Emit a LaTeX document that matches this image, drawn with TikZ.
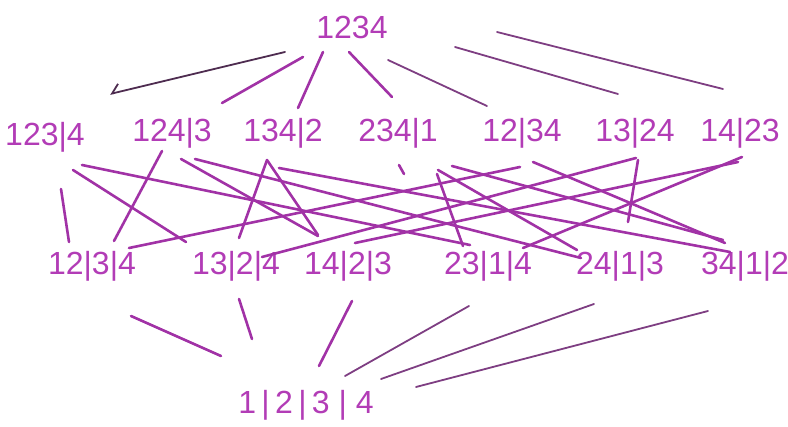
\documentclass[tikz,border=0pt]{standalone}
\usepackage{fontspec}
\setmainfont{Liberation Sans}
\usetikzlibrary{calc,arrows.meta}
\definecolor{ink}{HTML}{B23CB6}
\definecolor{pen}{HTML}{A132A6}
\definecolor{pencil}{HTML}{7E3E82}
\definecolor{dark}{HTML}{4E2C50}
\begin{document}
\begin{tikzpicture}[x=0.5pt,y=-0.5pt,
  part/.style={text=ink, font=\fontsize{16}{18}\selectfont, inner sep=0pt},
  link/.style={draw=pen, line width=1.3pt, line cap=round},
  faint/.style={draw=pencil, line width=0.9pt, line cap=round}]
\useasboundingbox (0,0) rectangle (788,427);
% partitions, one row per number of blocks
\node[part] (whole) at (352,27) {1234};
\node[part] (p123) at (45,137) {123|4};
\node[part] (p124) at (172,133) {124|3};
\node[part] (p134) at (283,133) {134|2};
\node[part] (p234) at (398,133) {234|1};
\node[part] (p12) at (522,133) {12|34};
\node[part] (p13) at (635,133) {13|24};
\node[part] (p14) at (740,133) {14|23};
\node[part] (q12) at (92,266) {12|3|4};
\node[part] (q13) at (236,266) {13|2|4};
\node[part] (q14) at (348,266) {14|2|3};
\node[part] (q23) at (488,266) {23|1|4};
\node[part] (q24) at (620,266) {24|1|3};
\node[part] (q34) at (745,266) {34|1|2};
\node[part] (singletons) at (306,405) {1\,|\,2\,|\,3\;|\;4};
% top
\draw[faint, draw=dark, -{Straight Barb[right,length=4pt]}] ($(whole)+(-67,25)$) -- ($(p123)+(65,-43)$);
\draw[link] ($(whole)+(-49,30)$) -- ($(p124)+(50,-30)$);
\draw[link] ($(whole)+(-29,25)$) -- ($(p134)+(15,-25)$);
\draw[link] ($(whole)+(-3,25)$) -- ($(p234)+(-6,-36)$);
\draw[faint] ($(whole)+(36,33)$) -- ($(p12)+(-35,-27)$);
\draw[faint] ($(whole)+(103,20)$) -- ($(p13)+(-17,-39)$);
\draw[faint] ($(whole)+(145,5)$) -- ($(p14)+(-17,-44)$);
% middle
\draw[link] ($(p123)+(16,52)$) -- ($(q12)+(-23,-24)$);
\draw[link] ($(p123)+(28,33)$) -- ($(q13)+(-50,-24)$);
\draw[link] ($(p123)+(37,28)$) -- ($(q23)+(-18,-21)$);
\draw[link] ($(p124)+(-10,18)$) -- ($(q12)+(22,-25)$);
\draw[link] ($(p124)+(9,26)$) -- ($(q14)+(-30,-30)$);
\draw[link] ($(p124)+(23,26)$) -- ($(q24)+(-39,-8)$);
\draw[link] ($(p134)+(-16,27)$) -- ($(q13)+(3,-28)$);
\draw[link] ($(p134)+(-16,27)$) -- ($(q14)+(-30,-31)$);
\draw[link] ($(p134)+(-4,35)$) -- ($(q34)+(-15,-14)$);
\draw[link] ($(p234)+(1,32)$) -- ($(p234)+(6,41)$);
\draw[link] ($(p234)+(39,41)$) -- ($(q23)+(-25,-20)$);
\draw[link] ($(p234)+(40,37)$) -- ($(q24)+(-43,-16)$);
\draw[link] ($(p234)+(54,33)$) -- ($(q34)+(-22,-26)$);
\draw[link] ($(p12)+(-2,34)$) -- ($(q12)+(37,-18)$);
\draw[link] ($(p12)+(11,29)$) -- ($(q34)+(-20,-23)$);
\draw[link] ($(p13)+(1,25)$) -- ($(q13)+(26,-9)$);
\draw[link] ($(p13)+(3,27)$) -- ($(q24)+(8,-44)$);
\draw[link] ($(p14)+(-2,29)$) -- ($(q14)+(7,-23)$);
\draw[link] ($(p14)+(2,24)$) -- ($(q23)+(35,-18)$);
% bottom
\draw[link] ($(q12)+(39,50)$) -- ($(singletons)+(-85,-49)$);
\draw[link] ($(q13)+(3,33)$) -- ($(singletons)+(-54,-66)$);
\draw[link] ($(q14)+(4,35)$) -- ($(singletons)+(13,-39)$);
\draw[faint] ($(q23)+(-19,40)$) -- ($(singletons)+(39,-29)$);
\draw[faint] ($(q24)+(-26,38)$) -- ($(singletons)+(75,-26)$);
\draw[faint] ($(q34)+(-37,45)$) -- ($(singletons)+(110,-18)$);
\end{tikzpicture}
\end{document}
